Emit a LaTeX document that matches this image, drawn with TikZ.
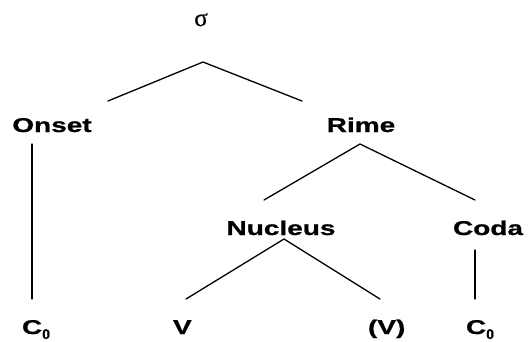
\documentclass[tikz,border=0pt]{standalone}
\usepackage{fontspec}
\setmainfont{Liberation Sans}[BoldFeatures={FakeBold=0.6}]
\newfontfamily\sigfont{Liberation Serif}[FakeBold=0.4]
\usetikzlibrary{calc}
\newcommand\stretchtxt[1]{\scalebox{1.4}[1]{#1}}
\newcommand\subzero{\raisebox{-5pt}{\fontsize{14}{16}\selectfont\bfseries 0}}
\tikzset{
  lbl/.style={inner sep=0pt, outer sep=0pt, anchor=base, font=\fontsize{20}{24}\selectfont\bfseries},
  lblw/.style={lbl, anchor=base west},
  branch/.style={line width=1.3pt, line cap=round}
}
\begin{document}
\begin{tikzpicture}[x=1pt,y=-1pt]
\useasboundingbox[fill=white] (0,0) rectangle (529,341);
\node[lbl, font=\fontsize{25}{28}\selectfont\sigfont] (sigma) at (201,26) {σ};
\node[lbl] (onset) at (52,132) {\stretchtxt{Onset}};
\node[lbl] (rime) at (361,132) {\stretchtxt{Rime}};
\node[lbl] (nucleus) at (281,235) {\stretchtxt{Nucleus}};
\node[lbl] (coda) at (488,235) {\stretchtxt{Coda}};
\node[lblw] (c1) at (22,334) {\stretchtxt{C}\subzero};
\node[lblw] (v1) at (173,334) {\stretchtxt{V}};
\node[lblw] (v2) at (368,334) {\stretchtxt{(V)}};
\node[lblw] (c2) at (466,334) {\stretchtxt{C}\subzero};
% sigma branches
\draw[branch] ($(onset.base)+(56,-31)$) -- ($(sigma.base)+(2,36)$) -- ($(rime.base)+(-59,-31)$);
% rime branches
\draw[branch] ($(nucleus.base)+(-17,-35)$) -- ($(rime.base)+(-1,12)$) -- ($(coda.base)+(-13,-35)$);
% onset
\draw[branch] ($(onset.base)+(-20,12)$) -- ($(c1.base west)+(10,-35)$);
% nucleus branches
\draw[branch] ($(v1.base west)+(13,-35)$) -- ($(nucleus.base)+(3,4)$) -- ($(v2.base west)+(12,-35)$);
% coda
\draw[branch] ($(coda.base)+(-13,15)$) -- ($(c2.base west)+(9,-35)$);
\end{tikzpicture}
\end{document}
